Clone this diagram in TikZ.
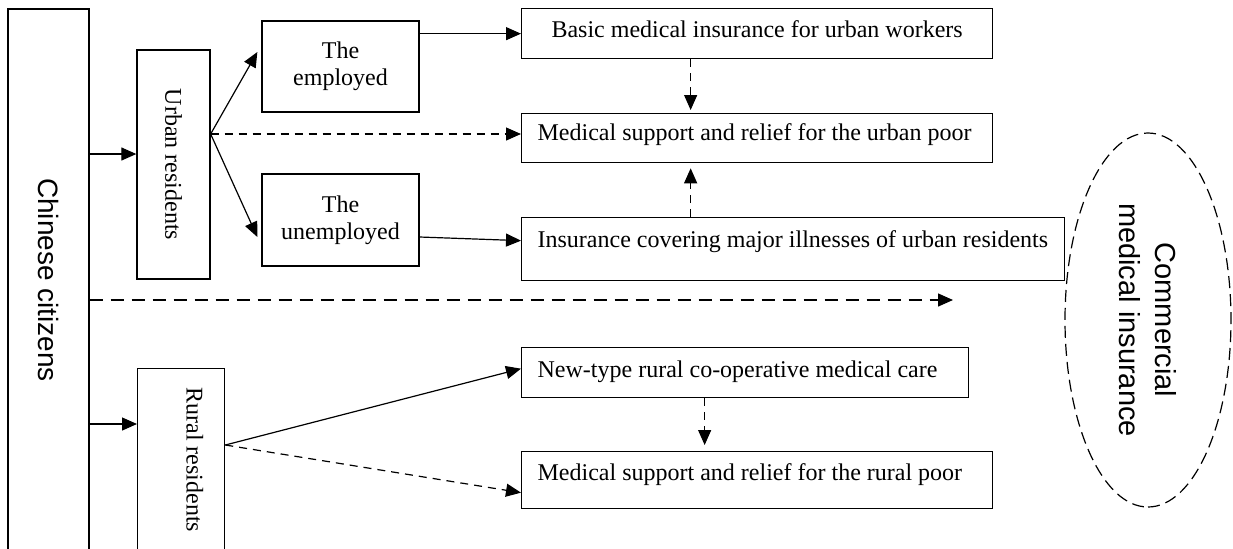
\documentclass[tikz,border=0pt]{standalone}
\usepackage{fontspec}
\setmainfont{Liberation Serif}
\setsansfont{Liberation Sans}
\usetikzlibrary{arrows.meta,shapes.geometric}
\tikzset{
  cell/.style={draw, line width=0.65pt, inner sep=0pt, font=\fontsize{12}{13.5}\selectfont},
  scheme/.style={cell, anchor=north west, inner xsep=8pt, align=flush left},
  arr/.style={-{Triangle[length=7.5pt,width=6.5pt]}, line width=0.6pt},
  dasharr/.style={arr, dash pattern=on 4pt off 3pt},
}
\begin{document}
\begin{tikzpicture}[x=0.5pt,y=-0.5pt]
\clip (0,0) rectangle (1233,548);

% population groups
\node[cell, rotate=-90, minimum width=271pt, minimum height=40.5pt,
  font=\sffamily\fontsize{14}{16}\selectfont] (citizens) at (48.5,280) {Chinese citizens};
\node[cell, rotate=-90, minimum width=114.5pt, minimum height=36.5pt] (urban) at (173.5,164.5) {Urban residents};
\node[cell, rotate=-90, anchor=south west, text width=107pt, inner xsep=9.5pt,
  text height=19pt, text depth=24.5pt, align=flush left] (rural) at (137,368) {Rural residents};
\node[cell, align=flush center, minimum width=78.5pt, minimum height=45.5pt] (employed) at (340.5,66.5) {The\\employed};
\node[cell, align=flush center, minimum width=78.5pt, minimum height=46pt] (unemployed) at (340.5,220) {The\\unemployed};

% insurance schemes
\node[scheme, align=flush center, text width=219.5pt, text height=14.5pt, text depth=10.5pt] (basic) at (521,8) {Basic medical insurance for urban workers};
\node[scheme, text width=219.5pt, text height=13.5pt, text depth=11pt] (urbanpoor) at (521,113) {Medical support and relief for the urban poor};
\node[scheme, inner xsep=6.5pt, text width=258.5pt, text height=15pt, text depth=16.5pt] (illness) at (521,217) {\hspace*{1.5pt}Insurance covering major illnesses of urban residents};
\node[scheme, text width=207.5pt, text height=15pt, text depth=10pt] (newtype) at (521,347) {New-type rural co-operative medical care};
\node[scheme, text width=219.5pt, text height=14.5pt, text depth=14pt] (ruralpoor) at (521,451) {Medical support and relief for the rural poor};

\node[draw, ellipse, rotate=-90, dash pattern=on 6pt off 3pt, line width=0.6pt,
  minimum width=187pt, minimum height=83pt, inner sep=0pt, align=flush center,
  font=\sffamily\fontsize{14.5}{18}\selectfont] (commercial) at (1148,320) {Commercial\\medical insurance};

% connection points
\coordinate (urbanin) at ([yshift=5.25pt]urban.south);
\coordinate (urbanout) at ([yshift=15.25pt]urban.north);
\coordinate (ruralin) at ([yshift=-28pt]rural.south west);
\coordinate (ruralout) at ([yshift=-38.5pt]rural.north west);
\coordinate (commtip) at (953,300);
\coordinate (urbanmid) at ([xshift=-33.25pt]urbanpoor.center);
\coordinate (ruralmid) at ([xshift=-20.25pt]newtype.center);

\draw[arr] (citizens.north |- urbanin) -- (urbanin);
\draw[arr] (citizens.north |- ruralin) -- (ruralin);
\draw[arr, dash pattern=on 6.5pt off 4pt, line width=0.7pt] (citizens.north |- commtip) -- (commtip);

\draw[arr] (urbanout) -- ([xshift=-2pt,yshift=7.25pt]employed.west);
\draw[arr] (urbanout) -- ([xshift=-2pt,yshift=-8.5pt]unemployed.west);
\draw[dasharr] (urbanout) -- (urbanpoor.west |- urbanout);
\draw[arr] (employed.east |- basic.west) -- (basic.west);
\draw[arr] ([yshift=-8.5pt]unemployed.east) -- ([yshift=4.25pt]illness.west);

\draw[dasharr, shorten >=1.5pt] (basic.south -| urbanmid) -- (urbanpoor.north -| urbanmid);
\draw[dasharr, shorten >=2.5pt] (illness.north -| urbanmid) -- (urbanpoor.south -| urbanmid);
\draw[dasharr, shorten >=3pt] (newtype.south -| ruralmid) -- (ruralpoor.north -| ruralmid);

\draw[arr] (ruralout) -- ([yshift=2pt]newtype.west);
\draw[dasharr] (ruralout) -- ([yshift=-6.25pt]ruralpoor.west);
\end{tikzpicture}
\end{document}
